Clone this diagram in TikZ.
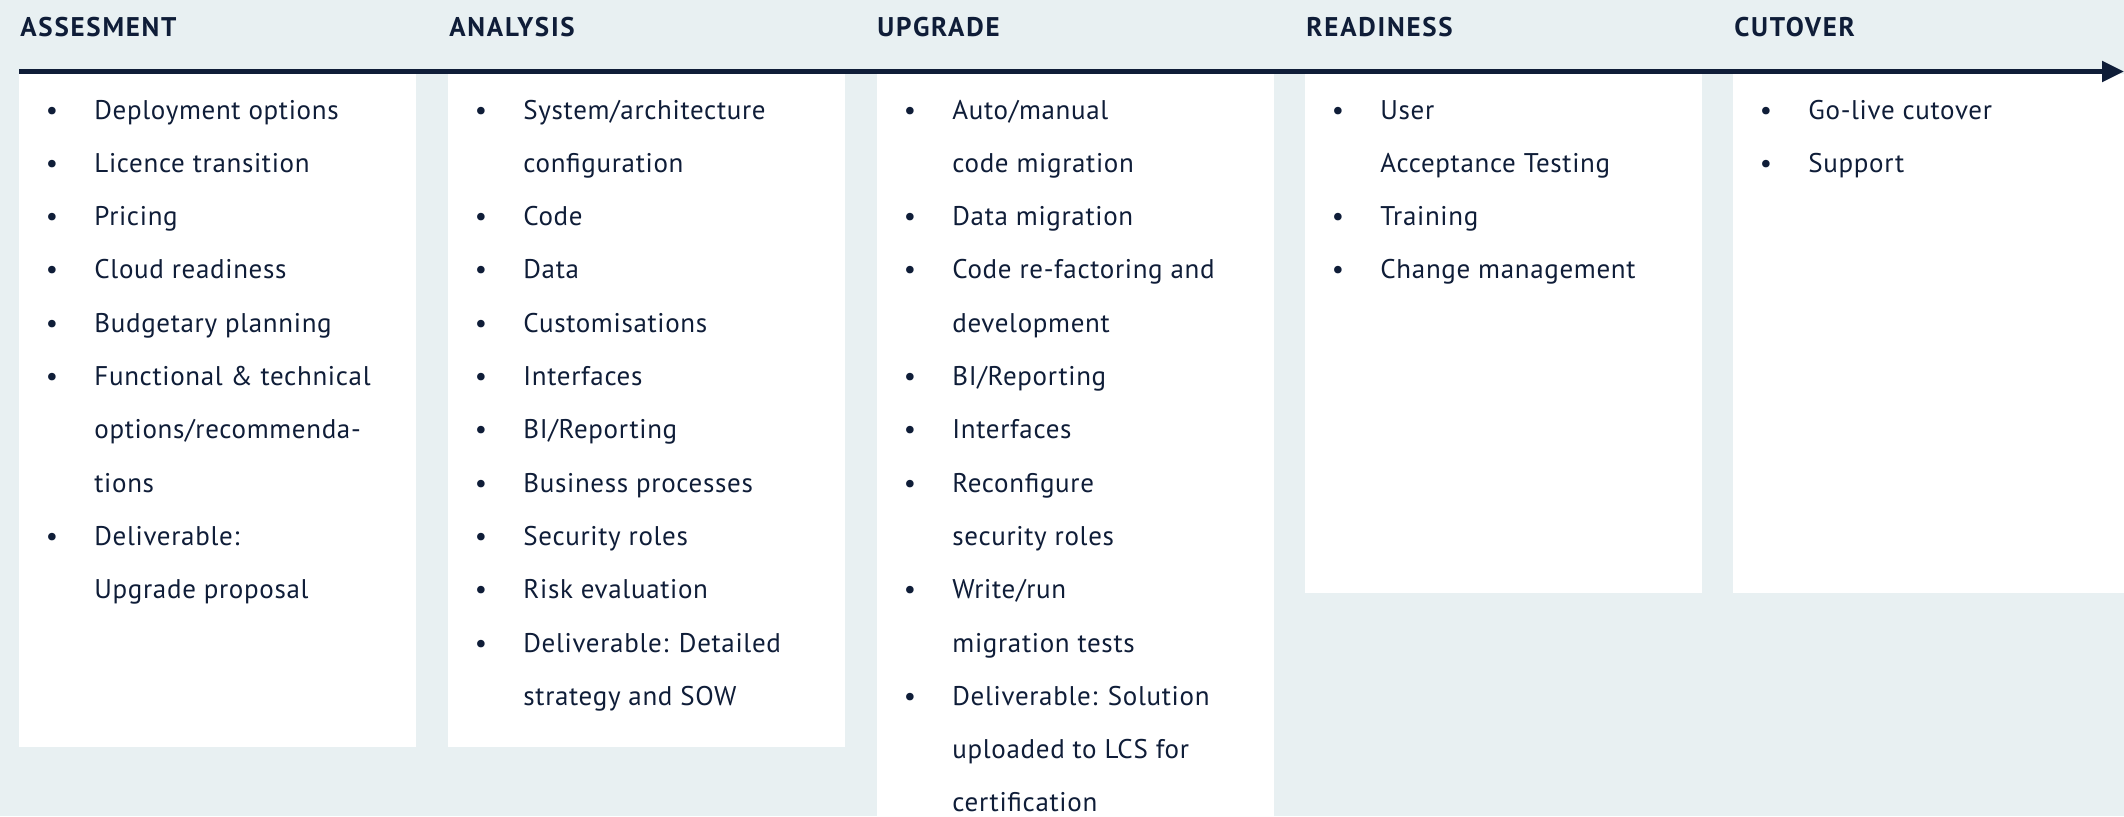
\documentclass[tikz,border=0pt]{standalone}
\usepackage{fontspec}
\setmainfont{PT Sans}
\usetikzlibrary{arrows.meta}
\definecolor{bgc}{HTML}{E8F0F2}
\definecolor{navy}{HTML}{0F1D38}
\newfontfamily\itemfam[LetterSpace=2.5]{PT Sans}
\newfontfamily\hdrfam[LetterSpace=6.5]{PT Sans}
\newcommand\itemfont{\itemfam\fontsize{13.5pt}{16pt}\selectfont}
\newcommand\hdrfont{\hdrfam\fontsize{13.5pt}{16pt}\selectfont\bfseries}
\newcommand\bitem[4]{%
  \node[bul] (#1b) at ({#2+33},{119+(#3-1)*53.3}) {•};
  \node[itm] (#1) at ({#2+75},{119+(#3-1)*53.3}) {#4};}
\newcommand\citem[4]{%
  \node[itm] (#1) at ({#2+75},{119+(#3-1)*53.3}) {#4};}
\tikzset{
  itm/.style={anchor=base west, inner sep=0pt, text=navy, font=\itemfont},
  bul/.style={anchor=base, inner sep=0pt, text=navy, font=\itemfont},
  hdr/.style={anchor=base west, inner sep=0pt, text=navy, font=\hdrfont},
  box/.style={fill=white, draw=none, anchor=north west, inner sep=0pt, minimum width=198.5pt},
  timeline/.style={draw=navy, line width=2.5pt, -{Triangle[length=11pt,width=10pt]}}
}
\begin{document}
\begin{tikzpicture}[x=0.5pt,y=-0.5pt]
\useasboundingbox (0,0) rectangle (2124,816);
\fill[bgc] (0,0) rectangle (2124,816);
% boxes
\node[box, minimum height=336.5pt] (box1) at (19,74) {};
\node[box, minimum height=336.5pt] (box2) at (448,74) {};
\node[box, minimum height=371pt] (box3) at (877,74) {};
\node[box, minimum height=259.5pt] (box4) at (1305,74) {};
\node[box, minimum height=259.5pt, minimum width=195.5pt] (box5) at (1733,74) {};
% timeline
\coordinate (tlstart) at (19,71.5);
\coordinate (tlend) at (2124,71.5);
\draw[timeline] (tlstart) -- (tlend);
% headers
\node[hdr] (h1) at (20,36) {ASSESMENT};
\node[hdr] (h2) at (449,36) {ANALYSIS};
\node[hdr] (h3) at (877,36) {UPGRADE};
\node[hdr] (h4) at (1306,36) {READINESS};
\node[hdr] (h5) at (1734,36) {CUTOVER};
% column 1
\bitem{a1}{19}{1}{Deployment options}
\bitem{a2}{19}{2}{Licence transition}
\bitem{a3}{19}{3}{Pricing}
\bitem{a4}{19}{4}{Cloud readiness}
\bitem{a5}{19}{5}{Budgetary planning}
\bitem{a6}{19}{6}{Functional \& technical}
\citem{a7}{19}{7}{options/recommenda-}
\citem{a8}{19}{8}{tions}
\bitem{a9}{19}{9}{Deliverable:}
\citem{a10}{19}{10}{Upgrade proposal}
% column 2
\bitem{b1}{448}{1}{System/architecture}
\citem{b2}{448}{2}{configuration}
\bitem{b3}{448}{3}{Code}
\bitem{b4}{448}{4}{Data}
\bitem{b5}{448}{5}{Customisations}
\bitem{b6}{448}{6}{Interfaces}
\bitem{b7}{448}{7}{BI/Reporting}
\bitem{b8}{448}{8}{Business processes}
\bitem{b9}{448}{9}{Security roles}
\bitem{b10}{448}{10}{Risk evaluation}
\bitem{b11}{448}{11}{Deliverable: Detailed}
\citem{b12}{448}{12}{strategy and SOW}
% column 3
\bitem{c1}{877}{1}{Auto/manual}
\citem{c2}{877}{2}{code migration}
\bitem{c3}{877}{3}{Data migration}
\bitem{c4}{877}{4}{Code re-factoring and}
\citem{c5}{877}{5}{development}
\bitem{c6}{877}{6}{BI/Reporting}
\bitem{c7}{877}{7}{Interfaces}
\bitem{c8}{877}{8}{Reconfigure}
\citem{c9}{877}{9}{security roles}
\bitem{c10}{877}{10}{Write/run}
\citem{c11}{877}{11}{migration tests}
\bitem{c12}{877}{12}{Deliverable: Solution}
\citem{c13}{877}{13}{uploaded to LCS for}
\citem{c14}{877}{14}{certification}
% column 4
\bitem{d1}{1305}{1}{User}
\citem{d2}{1305}{2}{Acceptance Testing}
\bitem{d3}{1305}{3}{Training}
\bitem{d4}{1305}{4}{Change management}
% column 5
\bitem{e1}{1733}{1}{Go-live cutover}
\bitem{e2}{1733}{2}{Support}
\end{tikzpicture}
\end{document}
